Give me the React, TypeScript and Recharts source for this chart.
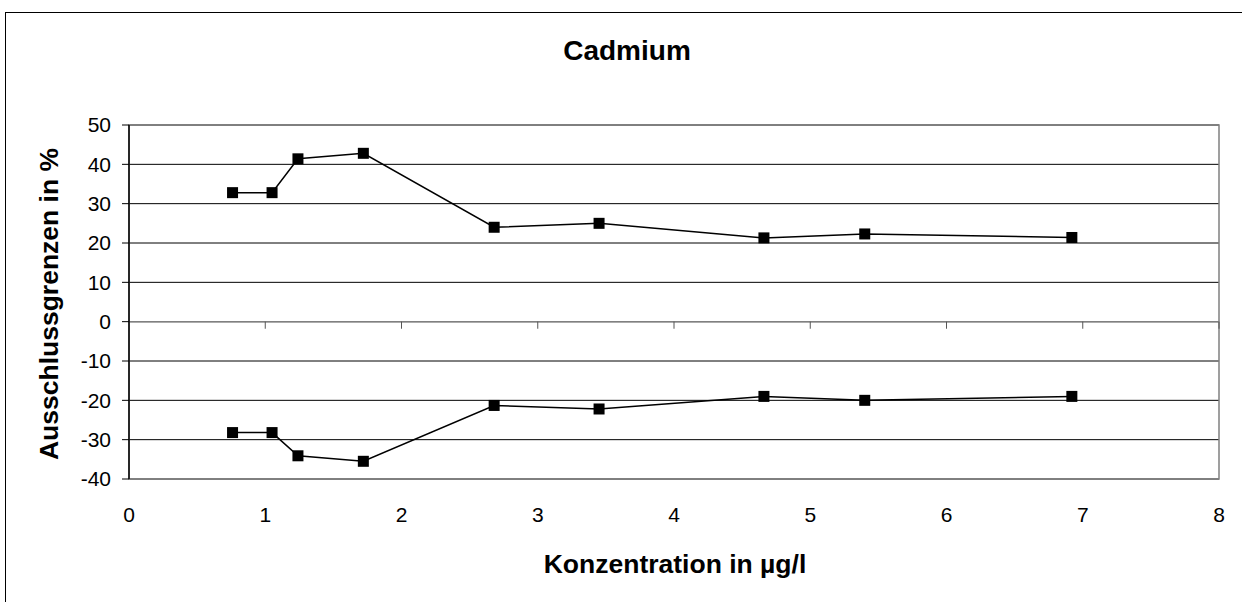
import {
  LineChart,
  Line,
  XAxis,
  YAxis,
  CartesianGrid,
  ReferenceLine,
  ReferenceArea,
} from 'recharts';

// Konzentration in µg/l
const konzentration = [0.76, 1.05, 1.24, 1.72, 2.68, 3.45, 4.66, 5.4, 6.92];
// obere / untere Ausschlussgrenze in %
const obereGrenze = [32.8, 32.8, 41.4, 42.8, 24.0, 25.0, 21.3, 22.3, 21.4];
const untereGrenze = [-28.2, -28.2, -34.1, -35.5, -21.3, -22.2, -19.0, -20.0, -19.0];

const xTicks = [0, 1, 2, 3, 4, 5, 6, 7, 8];
const yTicks = [-40, -30, -20, -10, 0, 10, 20, 30, 40, 50];

const FONT = '"Liberation Sans", Arial, sans-serif';

const data = konzentration.map((x, i) => ({
  x,
  upper: obereGrenze[i],
  lower: untereGrenze[i],
}));

const SquareDot = (props: any) => {
  const { cx, cy } = props;
  if (cx == null || cy == null) return null;
  return <rect x={cx - 5.5} y={cy - 5.5} width={11} height={11} fill="#000" />;
};

export default function App() {
  return (
    <div
      style={{
        position: 'absolute',
        left: 0,
        top: 0,
        width: 1242,
        height: 602,
        overflow: 'hidden',
        background: '#fff',
        fontFamily: FONT,
      }}
    >
      {/* Diagrammrahmen, rechts und unten abgeschnitten */}
      <div
        style={{
          position: 'absolute',
          left: 5,
          top: 12,
          width: 1300,
          height: 700,
          borderLeft: '1px solid #000',
          borderTop: '1px solid #000',
        }}
      />
      <div style={{ position: 'absolute', left: 0, top: 0 }}>
        <LineChart
          width={1242}
          height={602}
          data={data}
          margin={{ top: 125, right: 23, left: 69, bottom: 93 }}
        >
          <CartesianGrid horizontal vertical={false} stroke="#000" strokeWidth={1} />
          <ReferenceArea
            x1={0}
            x2={8}
            y1={-40}
            y2={50}
            fill="none"
            stroke="#808080"
            strokeWidth={1.5}
            ifOverflow="visible"
          />
          <XAxis
            type="number"
            dataKey="x"
            domain={[0, 8]}
            ticks={xTicks}
            axisLine={false}
            tickLine={false}
            tickSize={0}
            tickMargin={28}
            height={30}
            interval={0}
            tick={{ fontSize: 21, fill: '#000', fontFamily: FONT }}
          />
          <YAxis
            type="number"
            domain={[-40, 50]}
            ticks={yTicks}
            width={60}
            interval={0}
            axisLine={{ stroke: '#000', strokeWidth: 1.5 }}
            tickLine={{ stroke: '#000', strokeWidth: 1 }}
            tickSize={7}
            tickMargin={11}
            tick={{ fontSize: 21, fill: '#000', fontFamily: FONT }}
          />
          <ReferenceLine y={0} stroke="#808080" strokeWidth={1.5} />
          {xTicks.slice(1).map(t => (
            <ReferenceLine
              key={t}
              segment={[
                { x: t, y: 0 },
                { x: t, y: -1.8 },
              ]}
              stroke="#555"
              strokeWidth={1}
            />
          ))}
          <Line
            type="linear"
            dataKey="upper"
            stroke="#000"
            strokeWidth={1.5}
            dot={<SquareDot />}
            activeDot={false}
            isAnimationActive={false}
          />
          <Line
            type="linear"
            dataKey="lower"
            stroke="#000"
            strokeWidth={1.5}
            dot={<SquareDot />}
            activeDot={false}
            isAnimationActive={false}
          />
        </LineChart>
      </div>
      <svg
        width={1242}
        height={602}
        style={{ position: 'absolute', left: 0, top: 0, pointerEvents: 'none' }}
      >
        <text
          x={627}
          y={60}
          textAnchor="middle"
          fontSize={28}
          fontWeight="bold"
          fontFamily={FONT}
          fill="#000"
        >
          Cadmium
        </text>
        <text
          x={675}
          y={573}
          textAnchor="middle"
          fontSize={26.5}
          fontWeight="bold"
          fontFamily={FONT}
          fill="#000"
        >
          Konzentration in µg/l
        </text>
        <text
          x={58}
          y={304}
          textAnchor="middle"
          transform="rotate(-90, 58, 304)"
          fontSize={26.5}
          fontWeight="bold"
          fontFamily={FONT}
          fill="#000"
        >
          Ausschlussgrenzen in %
        </text>
      </svg>
    </div>
  );
}
